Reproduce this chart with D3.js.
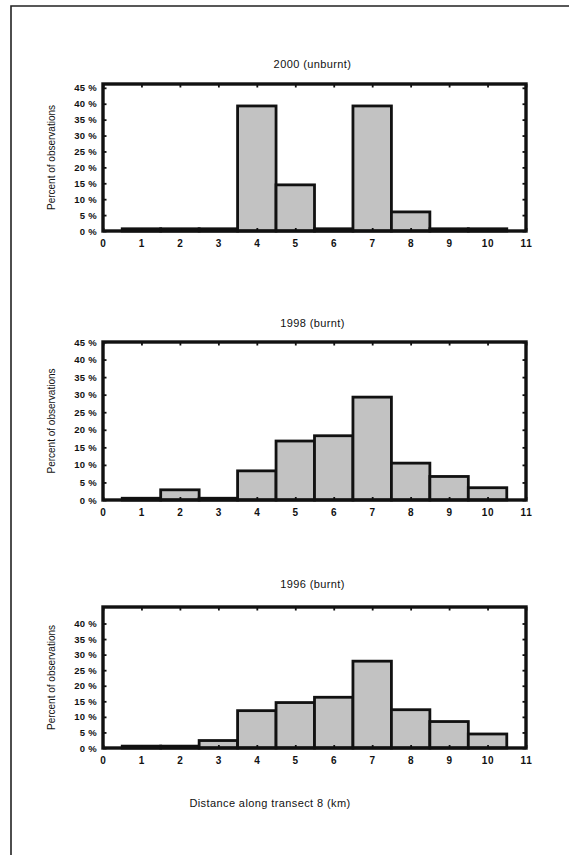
<!DOCTYPE html>
<html>
<head>
<meta charset="utf-8">
<script src="https://cdn.jsdelivr.net/npm/d3@7"></script>
<style>
  html, body { margin: 0; padding: 0; background: #fff; }
  svg { display: block; }
  text { font-family: "Liberation Sans", Arial, sans-serif; fill: #111; }
</style>
</head>
<body>
<svg id="chart" width="569" height="855"></svg>
<script>
// Distance bins along transect 8 (km), one bar per kilometre
const distanceBins = [1, 2, 3, 4, 5, 6, 7, 8, 9, 10];

// Percent of observations in each distance bin
const pct2000 = [0.7, 0.7, 0.7, 39.3, 14.5, 0.7, 39.3, 6.0, 0.7, 0.7];
const pct1998 = [0.5, 2.9, 0.5, 8.3, 16.8, 18.3, 29.3, 10.5, 6.7, 3.5];
const pct1996 = [0.6, 0.6, 2.4, 12.0, 14.6, 16.3, 27.9, 12.3, 8.5, 4.5];

const panelTitles = ["2000 (unburnt)", "1998 (burnt)", "1996 (burnt)"];
const xTickValues = [0, 1, 2, 3, 4, 5, 6, 7, 8, 9, 10, 11];
const yTickValues = [0, 5, 10, 15, 20, 25, 30, 35, 40, 45];
const yAxisTitle = "Percent of observations";
const xAxisTitle = "Distance along transect 8 (km)";

const svg = d3.select("#chart");

// Outer page frame (left and top edges visible)
svg.append("path")
  .attr("d", "M11,855 L11,6 L569,6")
  .attr("fill", "none")
  .attr("stroke", "#222")
  .attr("stroke-width", 1.6);

const panels = [
  { title: panelTitles[0], values: pct2000, top: 84, bottom: 231, yMax: 46.2, yTicks: yTickValues, titleY: 68 },
  { title: panelTitles[1], values: pct1998, top: 342, bottom: 500, yMax: 45, yTicks: yTickValues, titleY: 327 },
  { title: panelTitles[2], values: pct1996, top: 607, bottom: 748, yMax: 45.3, yTicks: yTickValues.filter(v => v <= 40), titleY: 588 }
];

const left = 103, right = 526;

panels.forEach(p => {
  const x = d3.scaleLinear().domain([0, 11]).range([left, right]);
  const y = d3.scaleLinear().domain([0, p.yMax]).range([p.bottom, p.top]);
  const g = svg.append("g");

  // Panel title
  g.append("text")
    .attr("x", (left + right) / 2 - 2)
    .attr("y", p.titleY)
    .attr("text-anchor", "middle")
    .attr("font-size", 11)
    .attr("letter-spacing", 0.4)
    .text(p.title);

  // Bars
  g.selectAll("rect.bar")
    .data(distanceBins.map((d, i) => ({ d, v: p.values[i] })))
    .join("rect")
    .attr("class", "bar")
    .attr("x", o => x(o.d - 0.5))
    .attr("width", o => x(o.d + 0.5) - x(o.d - 0.5))
    .attr("y", o => y(o.v))
    .attr("height", o => y(0) - y(o.v))
    .attr("fill", "#c2c2c2")
    .attr("stroke", "#111")
    .attr("stroke-width", 2.8);

  // Bottom axis with labels, ticks pointing inward
  const xAxis = g.append("g")
    .attr("transform", `translate(0,${p.bottom})`)
    .call(d3.axisBottom(x).tickValues(xTickValues).tickSize(-3).tickPadding(9).tickFormat(d3.format("d")));
  xAxis.select(".domain").remove();
  xAxis.selectAll("line").attr("stroke", "#111").attr("stroke-width", 1.8);
  xAxis.selectAll("text")
    .attr("font-size", 10).attr("font-weight", "bold")
    .attr("font-family", "Liberation Sans, Arial, sans-serif")
    .attr("letter-spacing", 0.8).attr("fill", "#111");

  // Top axis tick marks
  const xTop = g.append("g")
    .attr("transform", `translate(0,${p.top})`)
    .call(d3.axisTop(x).tickValues(xTickValues).tickSize(-3.5).tickFormat(""));
  xTop.select(".domain").remove();
  xTop.selectAll("line").attr("stroke", "#111").attr("stroke-width", 1.8);

  // Left axis with percent labels
  const yAxis = g.append("g")
    .attr("transform", `translate(${left},0)`)
    .call(d3.axisLeft(y).tickValues(p.yTicks).tickSize(-3.5).tickPadding(6).tickFormat(v => v + " %"));
  yAxis.select(".domain").remove();
  yAxis.selectAll("line").attr("stroke", "#111").attr("stroke-width", 1.8);
  yAxis.selectAll("text")
    .attr("font-size", 9.5).attr("font-weight", "bold")
    .attr("font-family", "Liberation Sans, Arial, sans-serif")
    .attr("letter-spacing", 0.3).attr("fill", "#111");

  // Right axis tick marks
  const yRight = g.append("g")
    .attr("transform", `translate(${right},0)`)
    .call(d3.axisRight(y).tickValues(p.yTicks).tickSize(-3.5).tickFormat(""));
  yRight.select(".domain").remove();
  yRight.selectAll("line").attr("stroke", "#111").attr("stroke-width", 1.8);

  // Plot frame
  g.append("rect")
    .attr("x", left).attr("y", p.top)
    .attr("width", right - left).attr("height", p.bottom - p.top)
    .attr("fill", "none")
    .attr("stroke", "#111")
    .attr("stroke-width", 3.4);

  // Y axis title
  g.append("text")
    .attr("transform", `translate(55,${(p.top + p.bottom) / 2}) rotate(-90)`)
    .attr("text-anchor", "middle")
    .attr("font-size", 10)
    .text(yAxisTitle);
});

// X axis title
svg.append("text")
  .attr("x", 270)
  .attr("y", 807)
  .attr("text-anchor", "middle")
  .attr("font-size", 11)
  .attr("letter-spacing", 0.4)
  .text(xAxisTitle);
</script>
</body>
</html>
